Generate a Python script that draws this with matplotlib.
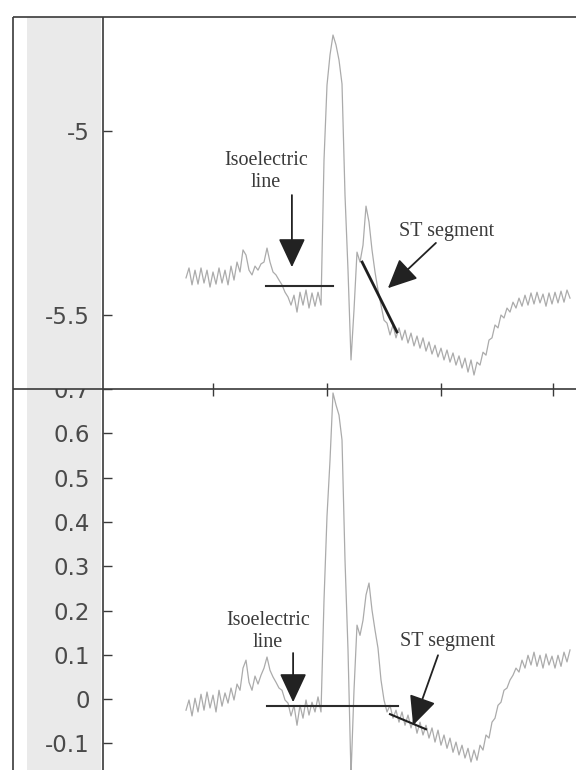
import numpy as np
import matplotlib
matplotlib.use("Agg")
import matplotlib.pyplot as plt
from matplotlib.patches import Rectangle

# ---------------- data ----------------
# Upper panel: raw ECG beat (one value per sample)
raw_signal = [
    -5.399, -5.372, -5.418, -5.378, -5.416, -5.372, -5.413, -5.378, -5.424, -5.383,
    -5.416, -5.372, -5.413, -5.378, -5.418, -5.367, -5.405, -5.356, -5.383, -5.323,
    -5.337, -5.378, -5.391, -5.367, -5.378, -5.361, -5.356, -5.318, -5.356, -5.383,
    -5.391, -5.405, -5.418, -5.438, -5.451, -5.473, -5.446, -5.492, -5.438, -5.473,
    -5.432, -5.481, -5.440, -5.476, -5.438, -5.473, -5.079, -4.875, -4.793, -4.739,
    -4.766, -4.807, -4.872, -5.174, -5.378, -5.622, -5.486, -5.329, -5.356, -5.310,
    -5.204, -5.247, -5.323, -5.383, -5.432, -5.473, -5.514, -5.522, -5.554, -5.527,
    -5.562, -5.535, -5.568, -5.541, -5.576, -5.549, -5.584, -5.557, -5.590, -5.562,
    -5.598, -5.573, -5.606, -5.582, -5.614, -5.590, -5.622, -5.595, -5.628, -5.603,
    -5.636, -5.611, -5.644, -5.617, -5.655, -5.622, -5.663, -5.628, -5.636, -5.601,
    -5.609, -5.568, -5.562, -5.527, -5.535, -5.500, -5.508, -5.481, -5.492, -5.465,
    -5.481, -5.454, -5.476, -5.446, -5.473, -5.440, -5.470, -5.438, -5.467, -5.443,
    -5.476, -5.440, -5.470, -5.438, -5.467, -5.435, -5.465, -5.432, -5.454,
]

# Lower panel: baseline-corrected ECG beat
corrected_signal = [
    -0.025, -0.002, -0.038, 0.002, -0.029, 0.011, -0.025, 0.016, -0.020, 0.009,
    -0.029, 0.020, -0.016, 0.014, -0.009, 0.025, -0.002, 0.034, 0.020, 0.070,
    0.088, 0.038, 0.020, 0.052, 0.034, 0.054, 0.070, 0.095, 0.065, 0.050,
    0.038, 0.025, 0.020, -0.002, -0.009, -0.038, -0.014, -0.059, -0.014, -0.043,
    -0.002, -0.036, -0.007, -0.029, 0.005, -0.029, 0.223, 0.413, 0.539, 0.691,
    0.664, 0.641, 0.585, 0.314, 0.111, -0.172, 0.020, 0.167, 0.144, 0.178,
    0.235, 0.262, 0.201, 0.156, 0.115, 0.043, -0.002, -0.029, -0.014, -0.043,
    -0.025, -0.052, -0.029, -0.059, -0.036, -0.065, -0.043, -0.077, -0.052, -0.081,
    -0.059, -0.088, -0.065, -0.097, -0.070, -0.104, -0.081, -0.111, -0.088, -0.120,
    -0.097, -0.126, -0.104, -0.133, -0.111, -0.142, -0.115, -0.138, -0.104, -0.115,
    -0.081, -0.088, -0.052, -0.043, -0.014, -0.007, 0.020, 0.025, 0.043, 0.054,
    0.070, 0.061, 0.088, 0.070, 0.099, 0.077, 0.106, 0.074, 0.099, 0.070,
    0.102, 0.077, 0.097, 0.070, 0.099, 0.074, 0.106, 0.084, 0.111,
]

top_ticks = [-5.0, -5.5]
top_ticklabels = ["-5", "-5.5"]
bottom_ticks = [-0.1, 0.0, 0.1, 0.2, 0.3, 0.4, 0.5, 0.6, 0.7]
bottom_ticklabels = ["-0.1", "0", "0.1", "0.2", "0.3", "0.4", "0.5", "0.6", "0.7"]
sample_ticks = [9, 47, 85, 122.3]

# annotation anchors (sample index, value)
top_iso_level, top_iso_from, top_iso_to = -5.421, 26.7, 49.0
top_st_seg = ([58.7, 70.3], [-5.356, -5.546])
bot_iso_level, bot_iso_from, bot_iso_to = -0.016, 27.0, 70.7
bot_st_seg = ([68.0, 80.0], [-0.034, -0.068])

# ---------------- figure ----------------
W, H = 576, 770
fig = plt.figure(figsize=(W / 100, H / 100), dpi=100)
fig.patch.set_facecolor("white")


def fx(px):
    return px / W


def fy(py):
    return 1 - py / H


LEFT, DIV, TOP, SEP = 13, 103, 17, 389
band_col = "#eaeaea"
line_col = "#3a3a3a"
trace_col = "#ababab"
text_col = "#3a3a3a"
tick_col = "#4a4a4a"

ax_top = fig.add_axes([fx(DIV), fy(SEP), fx(W) - fx(DIV), (SEP - TOP) / H], zorder=3)
ax_bot = fig.add_axes([fx(DIV), 0, fx(W) - fx(DIV), fy(SEP)], zorder=1)
cov_top = fig.add_axes([fx(LEFT), fy(SEP), fx(DIV) - fx(LEFT), (SEP - TOP) / H], zorder=2)
cov_bot = fig.add_axes([fx(LEFT), 0, fx(DIV) - fx(LEFT), fy(SEP)], zorder=0)

for cov in (cov_top, cov_bot):
    cov.set_xlim(LEFT, DIV)
    cov.set_ylim(0, 1)
    cov.axis("off")
    cov.add_patch(Rectangle((LEFT, 0), DIV - LEFT, 1, facecolor="white", edgecolor="none"))
    cov.add_patch(Rectangle((27, 0), 74, 1, facecolor=band_col, edgecolor="none"))

x_top = np.arange(len(raw_signal))
x_bot = np.arange(len(corrected_signal))
xlim = (-27.67, 130.0)

for ax in (ax_top, ax_bot):
    ax.set_xlim(*xlim)
    ax.set_facecolor("white")
    for s in ax.spines.values():
        s.set_visible(False)
    ax.tick_params(axis="y", direction="in", length=6.5, width=1.0, pad=9.5,
                   labelsize=16.5, labelcolor=tick_col, color=line_col)

ax_top.plot(x_top, raw_signal, color=trace_col, lw=0.9)
ax_top.set_ylim(-5.701, -4.690)
ax_top.set_yticks(top_ticks)
ax_top.set_yticklabels(top_ticklabels, family="DejaVu Sans")
ax_top.set_xticks(sample_ticks)
ax_top.tick_params(axis="x", bottom=True, top=False, labelbottom=False,
                   direction="in", length=4, width=1.0, color=line_col)

ax_bot.plot(x_bot, corrected_signal, color=trace_col, lw=0.9)
ax_bot.set_ylim(-0.160, 0.6998)
ax_bot.set_yticks(bottom_ticks)
ax_bot.set_yticklabels(bottom_ticklabels, family="DejaVu Sans")
ax_bot.set_xticks(sample_ticks)
ax_bot.tick_params(axis="x", bottom=False, top=True, labelbottom=False, labeltop=False,
                   direction="in", length=5, width=1.0, color=line_col)

serif = ["Liberation Serif", "DejaVu Serif"]
arrow_kw = dict(arrowstyle="-|>,head_length=0.9,head_width=0.42", mutation_scale=20,
                lw=1.3, color="#222222", shrinkA=0, shrinkB=0)

# --- upper panel annotations ---
ax_top.plot([top_iso_from, top_iso_to], [top_iso_level] * 2, color="#2b2b2b", lw=1.5)
ax_top.plot(top_st_seg[0], top_st_seg[1], color="#1e1e1e", lw=2.0)
ax_top.text(26.7, -5.110, "Isoelectric\nline", ha="center", va="center", family=serif,
            fontsize=14.5, color=text_col, linespacing=1.2)
ax_top.annotate("", xy=(35.3, -5.370), xytext=(35.3, -5.174), arrowprops=arrow_kw)
ax_top.text(87.0, -5.272, "ST segment", ha="center", va="center", family=serif,
            fontsize=14.5, color=text_col)
ax_top.annotate("", xy=(67.3, -5.427), xytext=(83.3, -5.304), arrowprops=arrow_kw)

# --- lower panel annotations ---
ax_bot.plot([bot_iso_from, bot_iso_to], [bot_iso_level] * 2, color="#2b2b2b", lw=1.5)
ax_bot.plot(bot_st_seg[0], bot_st_seg[1], color="#1e1e1e", lw=1.5)
ax_bot.text(27.3, 0.152, "Isoelectric\nline", ha="center", va="center", family=serif,
            fontsize=14.5, color=text_col, linespacing=1.2)
ax_bot.annotate("", xy=(35.7, -0.007), xytext=(35.7, 0.104), arrowprops=arrow_kw)
ax_bot.text(87.3, 0.131, "ST segment", ha="center", va="center", family=serif,
            fontsize=14.5, color=text_col)
ax_bot.annotate("", xy=(75.7, -0.059), xytext=(84.0, 0.099), arrowprops=arrow_kw)

# --- frame lines ---
frame = fig.add_axes([0, 0, 1, 1], zorder=5)
frame.set_xlim(0, W)
frame.set_ylim(H, 0)
frame.axis("off")
frame.patch.set_alpha(0)
for xs, ys in (([LEFT, LEFT], [TOP, H]), ([DIV, DIV], [TOP, H]),
               ([LEFT, W], [TOP, TOP]), ([LEFT, W], [SEP, SEP])):
    frame.plot(xs, ys, color=line_col, lw=1.2, clip_on=False, solid_capstyle="butt")

fig.savefig("out.png", dpi=100)
